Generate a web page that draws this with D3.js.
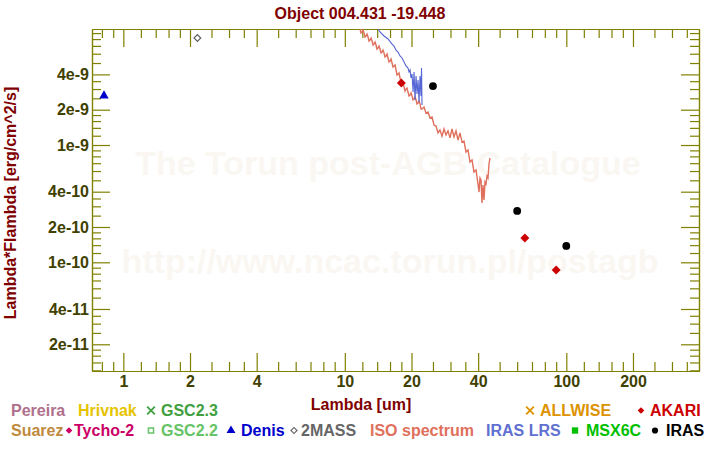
<!DOCTYPE html>
<html><head><meta charset="utf-8">
<script src="https://cdn.jsdelivr.net/npm/d3@7"></script>
<style>
body{margin:0;background:#fff}
svg{display:block}
text{font-family:"Liberation Sans",Arial,Helvetica,sans-serif;font-weight:bold}
</style>
</head><body>
<svg id="chart" width="720" height="450"></svg>
<script>
// ---------- data ----------
const chartTitle = "Object 004.431 -19.448";
const xTickLabels = [1, 2, 4, 10, 20, 40, 100, 200];
const yTickLabels = [2e-11, 4e-11, 1e-10, 2e-10, 4e-10, 1e-9, 2e-9, 4e-9];
const minorMantissas = [1.2, 1.4, 1.6, 1.8, 2.5, 3, 3.5, 5, 6, 7, 8, 9];

const denisLambda = [0.818];
const denisFlux = [2.63e-9];
const twoMassLambda = [2.16];
const twoMassFlux = [8.17e-9];
const akariLambda = [18, 65, 90];
const akariFlux = [3.38e-9, 1.61e-10, 8.6e-11];
const irasLambda = [25, 60, 100];
const irasFlux = [3.18e-9, 2.74e-10, 1.38e-10];

const isoLambda = [11.71,11.83,11.96,12.08,12.21,12.34,12.47,12.60,12.73,12.86,13.00,13.14,13.27,13.41,13.55,13.69,13.83,13.97,14.12,14.27,14.42,14.57,14.72,14.87,15.03,15.19,15.35,15.51,15.67,15.83,16.00,16.17,16.34,16.51,16.68,16.86,17.03,17.21,17.39,17.57,17.75,17.94,18.13,18.32,18.51,18.70,18.89,19.09,19.29,19.49,19.70,19.91,20.11,20.32,20.54,20.76,20.97,21.19,21.41,21.63,21.86,22.09,
  22.31,22.78,23.26,23.75,24.25,24.76,25.28,25.81,26.35,26.90,27.47,28.04,28.63,29.23,29.85,30.47,31.12,31.77,32.44,33.12,33.81,34.52,35.25,35.99,36.75,37.52,38.31,39.11,39.93,40.35,40.77,41.20,41.63,42.06,42.50,42.95,43.40,43.85,44.31,44.77,45.24];
const isoFlux = [9.75e-9,9.01e-9,9.19e-9,9.56e-9,9.01e-9,8.33e-9,8.50e-9,8.84e-9,8.33e-9,7.70e-9,7.86e-9,8.17e-9,7.70e-9,7.12e-9,7.26e-9,7.55e-9,7.12e-9,6.58e-9,6.71e-9,6.98e-9,6.58e-9,6.09e-9,6.21e-9,6.45e-9,6.09e-9,5.63e-9,5.74e-9,5.97e-9,5.52e-9,5.10e-9,5.20e-9,5.41e-9,5.00e-9,4.62e-9,4.72e-9,4.81e-9,4.36e-9,3.95e-9,4.03e-9,4.11e-9,3.73e-9,3.38e-9,3.38e-9,3.44e-9,3.12e-9,2.89e-9,3.00e-9,3.06e-9,2.83e-9,2.62e-9,2.67e-9,2.78e-9,2.62e-9,2.42e-9,2.47e-9,2.57e-9,2.42e-9,2.24e-9,2.28e-9,2.37e-9,2.24e-9,2.03e-9,
  2.03e-9,2.11e-9,1.87e-9,1.91e-9,1.70e-9,1.73e-9,1.48e-9,1.45e-9,1.27e-9,1.34e-9,1.19e-9,1.37e-9,1.22e-9,1.32e-9,1.15e-9,1.37e-9,1.17e-9,1.32e-9,1.10e-9,1.27e-9,1.06e-9,1.08e-9,8.72e-10,9.07e-10,7.16e-10,7.45e-10,5.89e-10,6.12e-10,4.65e-10,3.97e-10,5.23e-10,5.03e-10,3.20e-10,4.56e-10,3.40e-10,4.84e-10,4.65e-10,5.44e-10,5.23e-10,6.89e-10,7.75e-10];

const lrsLambda = [14.12,14.42,15.03,15.67,16.34,16.68,17.03,17.39,17.75,18.13,18.51,18.89,19.29,19.50,19.70,19.90,20.11,20.33,20.54,20.75,20.97,21.19,21.41,21.63,21.86,22.08,22.20,22.31];
const lrsFlux = [9.75e-9,9.19e-9,8.50e-9,8.01e-9,7.26e-9,6.98e-9,6.45e-9,6.21e-9,5.74e-9,5.52e-9,5.10e-9,4.72e-9,4.53e-9,4.19e-9,4.36e-9,3.73e-9,4.03e-9,2.83e-9,4.19e-9,2.42e-9,3.87e-9,2.72e-9,3.58e-9,2.33e-9,3.87e-9,2.62e-9,4.53e-9,2.19e-9];

const legendRow1 = ["Pereira", "Hrivnak", "GSC2.3", "ALLWISE", "AKARI"];
const legendRow2 = ["Suarez", "Tycho-2", "GSC2.2", "Denis", "2MASS", "ISO spectrum", "IRAS LRS", "MSX6C", "IRAS"];

// ---------- layout / style ----------
const L = 92, R = 699, T = 29, B = 371;
const axisColor = "#808000", labelColor = "#404000", titleColor = "#800000";

const svg = d3.select("#chart");
const x = d3.scaleLog().domain([0.722, 397.3]).range([L, R]);
const y = d3.scaleLog().domain([1.184e-11, 9.75e-9]).range([B, T]);

function minorTicks(domain) {
  const out = [];
  for (let e = -12; e <= 3; e++) {
    for (const m of minorMantissas) {
      const v = m * Math.pow(10, e);
      if (v > domain[0] && v < domain[1]) out.push(v);
    }
  }
  return out;
}
const xMinor = minorTicks(x.domain());
const yMinor = minorTicks(y.domain());

// watermark
const wm = svg.append("g").attr("fill", "#faf7f2").attr("font-size", 34).attr("text-anchor", "middle");
wm.append("text").attr("x", 388).attr("y", 175).text("The Torun post-AGB Catalogue");
wm.append("text").attr("x", 390).attr("y", 273).text("http://www.ncac.torun.pl/postagb");

// title
svg.append("text").attr("x", 360).attr("y", 19).attr("text-anchor", "middle")
  .attr("font-size", 16).attr("fill", titleColor).text(chartTitle);

// axes
function styleAxis(g) {
  g.selectAll("path.domain").attr("stroke", axisColor).attr("stroke-width", 1.2);
  g.selectAll(".tick line").attr("stroke", axisColor).attr("stroke-width", 1.2);
  g.selectAll(".tick text").attr("fill", labelColor).attr("font-size", 16)
    .attr("font-family", '"Liberation Sans",Arial,sans-serif').attr("font-weight", "bold");
}
const yFmt = v => {
  const e = Math.floor(Math.log10(v) + 1e-9);
  const m = Math.round(v / Math.pow(10, e));
  return m + "e" + e;
};
const xFmt = d3.format("~g");

svg.append("g").attr("transform", `translate(0,${B})`)
  .call(d3.axisBottom(x).tickValues(xMinor).tickSizeInner(-9).tickSizeOuter(0).tickFormat("")).call(styleAxis);
svg.append("g").attr("transform", `translate(0,${B})`)
  .call(d3.axisBottom(x).tickValues(xTickLabels).tickSizeInner(-18).tickSizeOuter(0).tickPadding(5).tickFormat(xFmt)).call(styleAxis);
svg.append("g").attr("transform", `translate(0,${T})`)
  .call(d3.axisTop(x).tickValues(xMinor).tickSizeInner(-9).tickSizeOuter(0).tickFormat("")).call(styleAxis);
svg.append("g").attr("transform", `translate(0,${T})`)
  .call(d3.axisTop(x).tickValues(xTickLabels).tickSizeInner(-18).tickSizeOuter(0).tickFormat("")).call(styleAxis);
svg.append("g").attr("transform", `translate(${L},0)`)
  .call(d3.axisLeft(y).tickValues(yMinor).tickSizeInner(-9).tickSizeOuter(0).tickFormat("")).call(styleAxis);
svg.append("g").attr("transform", `translate(${L},0)`)
  .call(d3.axisLeft(y).tickValues(yTickLabels).tickSizeInner(-18).tickSizeOuter(0).tickPadding(3).tickFormat(yFmt)).call(styleAxis);
svg.append("g").attr("transform", `translate(${R},0)`)
  .call(d3.axisRight(y).tickValues(yMinor).tickSizeInner(-9).tickSizeOuter(0).tickFormat("")).call(styleAxis);
svg.append("g").attr("transform", `translate(${R},0)`)
  .call(d3.axisRight(y).tickValues(yTickLabels).tickSizeInner(-18).tickSizeOuter(0).tickFormat("")).call(styleAxis);

// axis titles
svg.append("text").attr("x", 361).attr("y", 410).attr("text-anchor", "middle")
  .attr("font-size", 16).attr("fill", titleColor).text("Lambda [um]");
svg.append("text").attr("transform", "translate(15.5,203) rotate(-90)").attr("text-anchor", "middle")
  .attr("font-size", 16).attr("fill", titleColor).text("Lambda*Flambda [erg/cm^2/s]");

// clip
svg.append("clipPath").attr("id", "plotclip").append("rect")
  .attr("x", L).attr("y", T).attr("width", R - L).attr("height", B - T);
const plot = svg.append("g").attr("clip-path", "url(#plotclip)");

const line = d3.line().x(d => x(d[0])).y(d => y(d[1]));
plot.append("path").datum(isoLambda.map((l, i) => [l, isoFlux[i]]))
  .attr("d", line).attr("fill", "none").attr("stroke", "#e0705c").attr("stroke-width", 1.4);
plot.append("path").datum(lrsLambda.map((l, i) => [l, lrsFlux[i]]))
  .attr("d", line).attr("fill", "none").attr("stroke", "#5565d5").attr("stroke-width", 1.1);

function points(lams, fluxes, type, size, fill, stroke, rot) {
  plot.selectAll(null).data(lams.map((l, i) => [l, fluxes[i]])).enter().append("path")
    .attr("transform", d => `translate(${x(d[0])},${y(d[1])}) rotate(${rot || 0})`)
    .attr("d", d3.symbol().type(type).size(size))
    .attr("fill", fill).attr("stroke", stroke).attr("stroke-width", 1.2);
}
points(denisLambda, denisFlux, d3.symbolTriangle, 38, "#0000cc", "none");
points(twoMassLambda, twoMassFlux, d3.symbolSquare, 22, "none", "#606060", 45);
points(akariLambda, akariFlux, d3.symbolSquare, 40, "#cc0000", "none", 45);
points(irasLambda, irasFlux, d3.symbolCircle, 48, "#000000", "none");

// legend
const legendLayout = [
  {label: legendRow1[0], tx: 11, y: 416, color: "#b0708c"},
  {label: legendRow1[1], tx: 78, y: 416, color: "#e6c300"},
  {label: legendRow1[2], tx: 161, y: 416, color: "#40a040", sym: "x", sx: 151},
  {label: legendRow1[3], tx: 540, y: 416, color: "#dd9200", sym: "x", sx: 530},
  {label: legendRow1[4], tx: 650, y: 416, color: "#cc0000", sym: "diamond", sx: 641},
  {label: legendRow2[0], tx: 11, y: 436, color: "#c08a40"},
  {label: legendRow2[1], tx: 74, y: 436, color: "#cc0066", sym: "diamond", sx: 69},
  {label: legendRow2[2], tx: 161, y: 436, color: "#66c466", sym: "square", sx: 151},
  {label: legendRow2[3], tx: 241, y: 436, color: "#0000cc", sym: "triangle", sx: 231},
  {label: legendRow2[4], tx: 301, y: 436, color: "#666666", sym: "odiamond", sx: 294},
  {label: legendRow2[5], tx: 370, y: 436, color: "#e0705c"},
  {label: legendRow2[6], tx: 486, y: 436, color: "#6070d0"},
  {label: legendRow2[7], tx: 586, y: 436, color: "#00c000", sym: "fsquare", sx: 575},
  {label: legendRow2[8], tx: 666, y: 436, color: "#000000", sym: "circle", sx: 655}
];
const lg = svg.append("g");
legendLayout.forEach(it => {
  lg.append("text").attr("x", it.tx).attr("y", it.y).attr("font-size", 16).attr("fill", it.color).text(it.label);
  if (!it.sym) return;
  const cy = it.y - 5.5;
  const s = lg.append("path").attr("transform", `translate(${it.sx},${cy})`);
  if (it.sym === "x") s.attr("d", d3.symbol().type(d3.symbolTimes).size(40)).attr("fill", "none").attr("stroke", it.color).attr("stroke-width", 1.8);
  else if (it.sym === "diamond") s.attr("transform", `translate(${it.sx},${cy}) rotate(45)`).attr("d", d3.symbol().type(d3.symbolSquare).size(22)).attr("fill", it.color);
  else if (it.sym === "odiamond") s.attr("transform", `translate(${it.sx},${cy}) rotate(45)`).attr("d", d3.symbol().type(d3.symbolSquare).size(18)).attr("fill", "none").attr("stroke", it.color).attr("stroke-width", 1.2);
  else if (it.sym === "square") s.attr("d", d3.symbol().type(d3.symbolSquare).size(26)).attr("fill", "none").attr("stroke", it.color).attr("stroke-width", 1.5);
  else if (it.sym === "fsquare") s.attr("d", d3.symbol().type(d3.symbolSquare).size(40)).attr("fill", it.color);
  else if (it.sym === "triangle") s.attr("d", d3.symbol().type(d3.symbolTriangle).size(34)).attr("fill", it.color);
  else if (it.sym === "circle") s.attr("d", d3.symbol().type(d3.symbolCircle).size(30)).attr("fill", it.color);
});
</script>
</body></html>
